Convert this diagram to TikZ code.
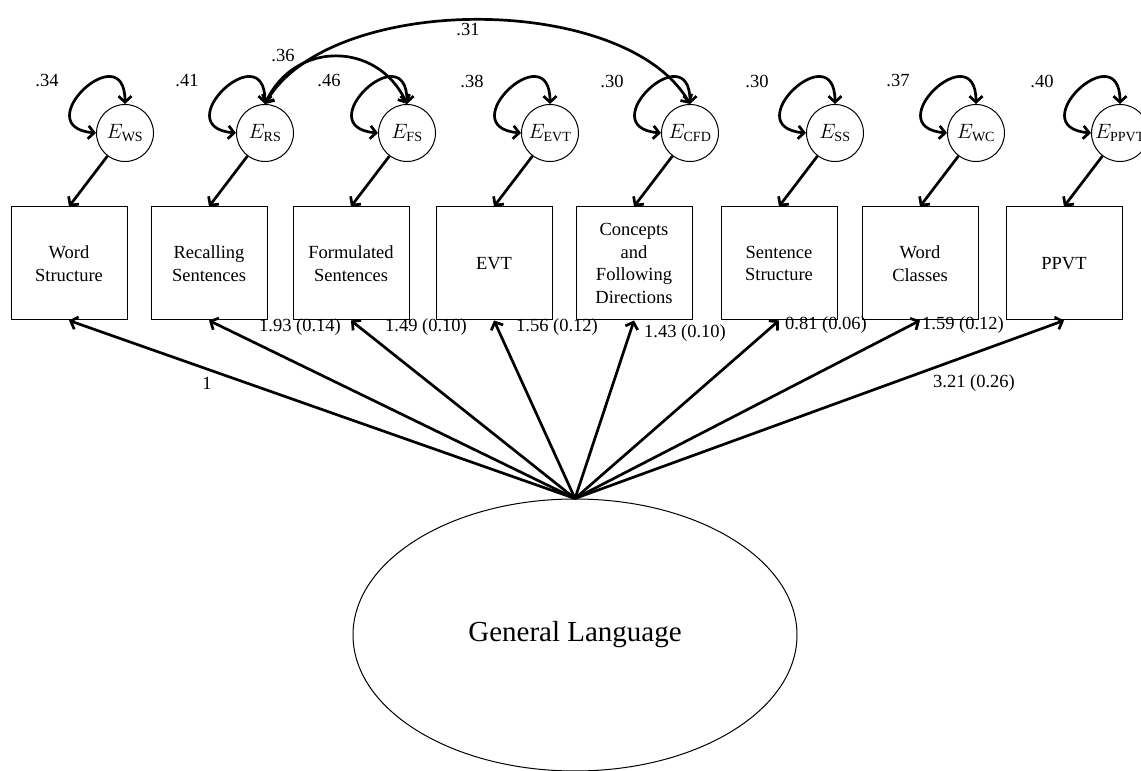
\documentclass[tikz,border=0pt]{standalone}
\usepackage{fontspec}
\setmainfont{Liberation Serif}
\usetikzlibrary{positioning}
\usetikzlibrary{shapes.geometric}
\usetikzlibrary{arrows.meta}

\begin{document}
\begin{tikzpicture}[x=1pt, y=1pt, >={Straight Barb[length=6pt,width=13pt]},
  every indicator/.style={draw, line width=1pt, minimum width=116pt, minimum height=113pt,
    inner sep=2pt, align=center, font=\fontsize{18.5}{22.5}\selectfont},
  every error/.style={draw, circle, line width=1pt, minimum size=57pt, inner sep=0pt,
    font=\fontsize{20}{24}\selectfont},
  every number/.style={font=\fontsize{18.5}{21}\selectfont},
  loading/.style={->, line width=2.7pt},
  residual/.style={<->, line width=2.7pt}]

\useasboundingbox (0,0) rectangle (1141,771);

% observed measures and their error terms
\foreach \x/\m/\t in {69/WS/{Word\\Structure}, 209/RS/{Recalling\\Sentences},
    351/FS/{Formulated\\Sentences}, 494/EVT/EVT,
    634/CFD/{Concepts\\and\\Following\\Directions}, 779/SS/{Sentence\\Structure},
    920/WC/{Word\\Classes}, 1064/PPVT/PPVT}
{
  \node [every indicator] (obs-\m) at (\x,507.5) {\t};
  \node [every error] (err-\m) at (\x+56,638) {$E_{\mathrm{\m}}$};
}

% latent factor
\node [draw, ellipse, line width=1pt, minimum width=444pt, minimum height=272pt,
  font=\fontsize{29}{34}\selectfont] (latent) at (575,136) {General Language};

\foreach \m in {WS,RS,FS,EVT,CFD,SS,WC,PPVT}
  \draw [loading] (err-\m) -- (obs-\m.north);

\foreach \m/\v in {WS/.34, RS/.41, FS/.46, EVT/.38, CFD/.30, SS/.30, WC/.37, PPVT/.40}
{
  \draw [residual] (err-\m.west) to [out=175, in=90, looseness=4.4] (err-\m.north);
  \node [every number] (var-\m) at ([xshift=-78pt, yshift=52pt]err-\m.center) {\v};
}

\draw [residual] (err-RS.north) to [out=65, in=115, looseness=1.26] (err-FS.north);
\draw [residual] (err-RS.north) to [out=60, in=120, looseness=0.78] (err-CFD.north);
\node [every number] (cov-FS) at (283,715) {.36};
\node [every number] (cov-CFD) at (468,741) {.31};

% factor loadings
\foreach \m/\l/\x/\y in {WS/1/207/388, RS/1.93 (0.14)/300/444, FS/1.49 (0.10)/426/444,
    EVT/1.56 (0.12)/557/444, CFD/1.43 (0.10)/685/438, SS/0.81 (0.06)/826/446,
    WC/1.59 (0.12)/963/446, PPVT/3.21 (0.26)/974/388}
{
  \draw [loading] (latent.north) -- (obs-\m.south);
  \node [every number] (load-\m) at (\x,\y) {\l};
}

\end{tikzpicture}
\end{document}
